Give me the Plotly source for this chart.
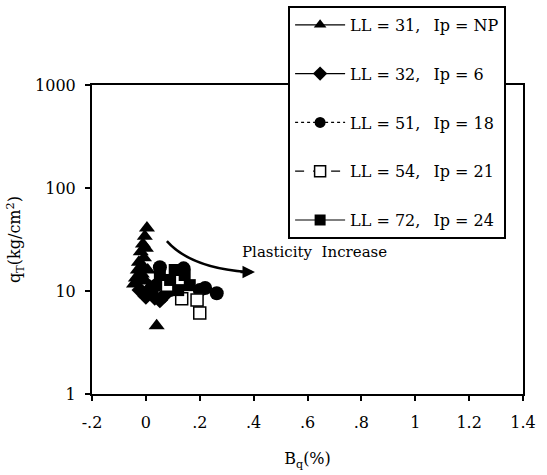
import math
import plotly.graph_objects as go

# ---- data ----
ll31_x = [0.004, -0.004, -0.011, 0.0, -0.019, -0.007, -0.026, -0.011, -0.030, -0.015, -0.037, -0.022, -0.044, -0.004, 0.007, 0.015, 0.040]
ll31_y = [41, 34, 28.6, 26, 24, 21, 19, 17.5, 16, 14.6, 13.4, 12.5, 11.7, 12.8, 16, 11.2, 4.6]

ll32_x = [-0.022, 0.015, 0.033, 0.052, 0.0, 0.070]
ll32_y = [10.2, 9.8, 8.7, 8.2, 8.9, 9.2]

ll51_x = [0.052, 0.140, 0.200, 0.220, 0.263, 0.040, 0.090]
ll51_y = [17, 16.6, 10.2, 10.7, 9.5, 11.4, 10.2]

ll54_x = [0.080, 0.133, 0.200, 0.190]
ll54_y = [11.4, 8.4, 6.1, 8.2]

ll72_x = [0.107, 0.144, 0.090, 0.163, 0.052, 0.120]
ll72_y = [16, 14.3, 12.8, 11.4, 14.3, 10.2]

series_names = ["LL = 31,\u2002 Ip = NP",
                "LL = 32,\u2002 Ip = 6",
                "LL = 51,\u2002 Ip = 18",
                "LL = 54,\u2002 Ip = 21",
                "LL = 72,\u2002 Ip = 24"]

x_tickvals = [-0.2, 0, 0.2, 0.4, 0.6, 0.8, 1.0, 1.2, 1.4]
x_ticktext = ["-.2", "0", ".2", ".4", ".6", ".8", "1", "1.2", "1.4"]
y_tickvals = [1, 10, 100, 1000]
y_ticktext = ["1", "10", "100", "1000"]

# curved arrow (Bq, qT) start, control, end
arrow_start = (0.078, 30.5)
arrow_ctrl = (0.166, 16.8)
arrow_end = (0.375, 15.3)

FONT = "DejaVu Serif"

series = [
    (ll31_x, ll31_y, "triangle-up", 14, "solid"),
    (ll32_x, ll32_y, "diamond", 13, "solid"),
    (ll51_x, ll51_y, "circle", 14, "dot"),
    (ll54_x, ll54_y, "square-open", 12, "dash"),
    (ll72_x, ll72_y, "square", 12, "solid"),
]

fig = go.Figure()
for i, (xs, ys, sym, sz, dash) in enumerate(series):
    mk = dict(symbol=sym, size=sz, color="black")
    if sym == "square-open":
        mk = dict(symbol="square", size=sz, color="white", line=dict(color="black", width=1.5))
    fig.add_trace(go.Scatter(x=xs, y=ys, mode="markers", marker=mk,
                             showlegend=False, legendgroup=f"g{i}"))
    leg_mk = dict(mk)
    leg_mk["size"] = 11
    fig.add_trace(go.Scatter(x=[None], y=[None], mode="lines+markers", marker=leg_mk,
                             line=dict(color="black", width=1.2, dash=dash),
                             name=series_names[i], legendgroup=f"g{i}", showlegend=True))

fig.add_shape(type="path", xref="x", yref="y",
              path=(f"M {arrow_start[0]},{arrow_start[1]} "
                    f"Q {arrow_ctrl[0]},{arrow_ctrl[1]} {arrow_end[0]},{arrow_end[1]}"),
              line=dict(color="black", width=2.5))
fig.add_annotation(x=0.405, y=math.log10(arrow_end[1]), xref="x", yref="y",
                   ax=-16, ay=0, showarrow=True, arrowhead=2, arrowsize=1.0,
                   arrowwidth=2.5, arrowcolor="black", text="")
fig.add_annotation(x=0.348, y=math.log10(24), xref="x", yref="y",
                   text="Plasticity  Increase",
                   showarrow=False, xanchor="left", yanchor="middle",
                   font=dict(family=FONT, size=15, color="black"))

fig.update_layout(
    width=547, height=475,
    margin=dict(l=92, r=24, t=85, b=81, autoexpand=False),
    paper_bgcolor="white", plot_bgcolor="white",
    font=dict(family=FONT, size=16, color="black"),
    showlegend=True,
    legend=dict(x=0.455, y=1.256, xanchor="left", yanchor="top",
                bgcolor="white", bordercolor="black", borderwidth=2,
                traceorder="grouped", tracegroupgap=25, itemwidth=50,
                font=dict(family=FONT, size=16, color="black")),
    xaxis=dict(range=[-0.2, 1.4], tickvals=x_tickvals, ticktext=x_ticktext,
               showgrid=False, zeroline=False, showline=True, linecolor="black",
               linewidth=2, mirror=True, ticks="outside", ticklen=5, tickwidth=2,
               tickcolor="black", ticklabelstandoff=8,
               tickfont=dict(family=FONT, size=16),
               title=dict(text="B<sub>q</sub>(%)", standoff=22,
                          font=dict(family=FONT, size=16))),
    yaxis=dict(type="log", range=[0, 3], tickvals=y_tickvals, ticktext=y_ticktext,
               showgrid=False, zeroline=False, showline=True, linecolor="black",
               linewidth=2, mirror=True, ticks="outside", ticklen=5, tickwidth=2,
               tickcolor="black", ticklabelstandoff=6,
               tickfont=dict(family=FONT, size=16),
               title=dict(text="q<sub>T</sub>(kg/cm<sup>2</sup>)", standoff=10,
                          font=dict(family=FONT, size=16))),
)

fig.write_html("out.html")
